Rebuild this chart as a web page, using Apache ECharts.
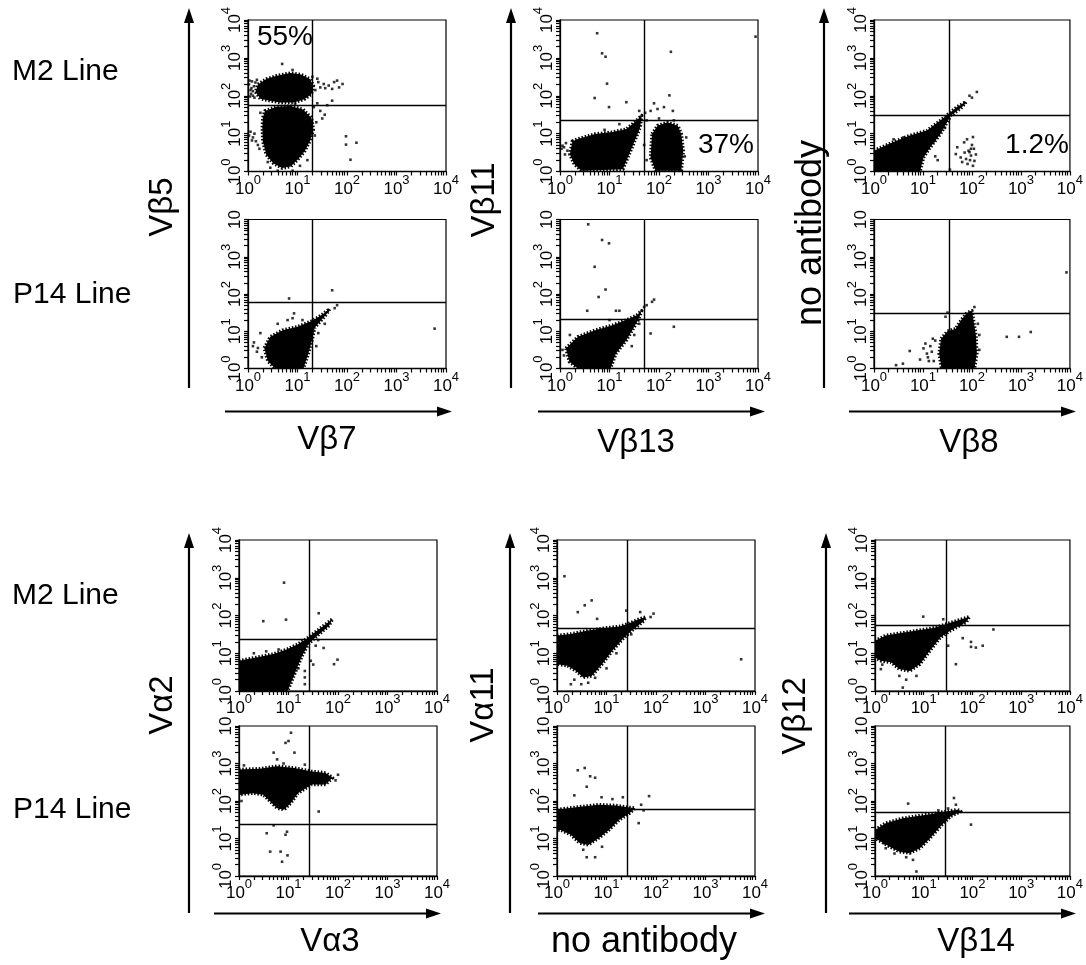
<!DOCTYPE html>
<html><head><meta charset="utf-8">
<script src="https://cdn.jsdelivr.net/npm/echarts@6/dist/echarts.min.js"></script>
<style>html,body{margin:0;padding:0;background:#fff}#c{width:1086px;height:965px}</style>
</head><body><div id="c"></div>
<script>
// ---------- DATA (all intensities in log10 units, axis 10^0 .. 10^4) ----------
const decades = [0, 1, 2, 3, 4];
const tickMultipliers = [1, 2, 3, 4, 5, 6, 7, 8, 9];
const rowLabels = ['M2 Line', 'P14 Line'];
const yTitles = ['Vβ5', 'Vβ11', 'no antibody', 'Vα2', 'Vα11', 'Vβ12'];
const xTitles = ['Vβ7', 'Vβ13', 'Vβ8', 'Vα3', 'no antibody', 'Vβ14'];
const percentTexts = ['55%', '37%', '1.2%'];
// quadrant gates per panel (panel order: top block col1 M2, col1 P14, col2 M2, col2 P14, col3 M2, col3 P14, bottom block same)
const gateX = [1.30, 1.30, 1.71, 1.71, 1.53, 1.53, 1.42, 1.42, 1.42, 1.42, 1.46, 1.44];
const gateY = [1.75, 1.77, 1.34, 1.33, 1.48, 1.49, 1.36, 1.38, 1.66, 1.77, 1.73, 1.71];

// dense populations (outline of the solid dot clouds)
const blobs1 = [
  [[0.2,2.3],[0.37,2.44],[0.58,2.53],[0.86,2.60],[1.07,2.56],[1.25,2.44],[1.32,2.27],[1.28,2.04],[1.14,1.91],[0.93,1.82],[0.65,1.82],[0.44,1.87],[0.25,1.92],[0.15,2.1]],
  [[0.34,1.60],[0.58,1.71],[0.86,1.73],[1.11,1.64],[1.28,1.42],[1.32,1.11],[1.25,0.80],[1.14,0.53],[1.00,0.31],[0.86,0.13],[0.69,0.09],[0.51,0.22],[0.37,0.44],[0.30,0.80],[0.29,1.16],[0.30,1.42]]
];
const blobs2 = [
  [[0.33,0.55],[0.45,0.85],[0.7,1.03],[1.0,1.12],[1.3,1.28],[1.5,1.45],[1.65,1.6],[1.58,1.45],[1.35,1.1],[1.3,0.8],[1.22,0.4],[1.12,0.0],[0.55,0.0],[0.4,0.2]]
];
const blobs3 = [
  [[0.25,0.8],[0.36,0.86],[0.71,0.99],[1.06,1.04],[1.34,1.12],[1.51,1.30],[1.65,1.48],[1.62,1.17],[1.51,0.81],[1.37,0.37],[1.27,0.06],[0.43,0.02],[0.29,0.19],[0.2,0.45]],
  [[1.86,0.99],[1.97,1.21],[2.17,1.30],[2.38,1.21],[2.45,0.99],[2.49,0.55],[2.45,0.02],[1.93,0.02],[1.83,0.37]]
];
const blobs4 = [
  [[0.12,0.54],[0.36,0.85],[0.71,1.03],[1.06,1.16],[1.34,1.30],[1.55,1.43],[1.65,1.55],[1.58,1.30],[1.34,0.76],[1.13,0.40],[1.02,0.0],[0.36,0.0],[0.19,0.18]]
];
const blobs5 = [
  [[0,0.55],[0.31,0.73],[0.73,0.95],[1.08,1.08],[1.36,1.35],[1.53,1.53],[1.70,1.71],[1.88,1.84],[1.8,1.7],[1.57,1.48],[1.36,1.0],[1.15,0.64],[1.01,0.37],[0.94,0.0],[0,0]]
];
const blobs6 = [
  [[1.37,0.8],[1.50,1.0],[1.67,1.07],[1.78,1.3],[1.9,1.5],[2.0,1.55],[2.03,1.3],[2.08,0.9],[2.1,0.4],[2.05,0.0],[1.38,0.0],[1.33,0.40]]
];
const blobs7 = [
  [[0,0.80],[0.35,0.89],[0.70,0.98],[0.98,1.11],[1.19,1.24],[1.36,1.38],[1.54,1.56],[1.71,1.73],[1.89,1.91],[1.82,1.73],[1.54,1.42],[1.40,1.24],[1.26,0.89],[1.12,0.44],[1.01,0.09],[0.98,0],[0,0]]
];
const blobs8 = [
  [[0,2.84],[0.42,2.86],[0.77,2.93],[1.12,2.88],[1.47,2.79],[1.75,2.75],[1.89,2.62],[1.75,2.44],[1.47,2.44],[1.19,2.21],[1.05,1.95],[0.91,1.77],[0.77,1.81],[0.63,1.99],[0.49,2.17],[0.28,2.21],[0,2.17]]
];
const blobs9 = [
  [[0,1.47],[0.28,1.51],[0.63,1.60],[0.98,1.67],[1.26,1.71],[1.44,1.78],[1.61,1.88],[1.79,1.96],[1.75,1.85],[1.51,1.60],[1.33,1.38],[1.12,1.07],[0.91,0.71],[0.70,0.40],[0.53,0.36],[0.39,0.53],[0.21,0.67],[0,0.71]]
];
const blobs10 = [
  [[0,1.77],[0.42,1.84],[0.84,1.90],[1.19,1.88],[1.40,1.84],[1.58,1.81],[1.47,1.68],[1.26,1.50],[1.05,1.23],[0.84,1.01],[0.63,0.83],[0.46,0.88],[0.28,1.10],[0.07,1.23],[0,1.23]]
];
const blobs11 = [
  [[0,1.33],[0.22,1.47],[0.50,1.53],[0.85,1.60],[1.20,1.67],[1.48,1.78],[1.69,1.87],[1.94,1.97],[1.87,1.82],[1.55,1.60],[1.34,1.42],[1.13,1.07],[0.92,0.71],[0.71,0.53],[0.50,0.58],[0.33,0.76],[0.12,0.80],[0,0.89]]
];
const blobs12 = [
  [[0,1.23],[0.22,1.41],[0.57,1.54],[0.92,1.61],[1.20,1.66],[1.45,1.72],[1.69,1.77],[1.76,1.72],[1.55,1.59],[1.34,1.32],[1.13,1.01],[0.92,0.74],[0.71,0.61],[0.50,0.65],[0.29,0.79],[0.12,0.92],[0,1.01]]
];

// sparse single events
const dots1 = [[0.02,2.3],[0.05,2.15],[0.08,2.38],[0.1,2.0],[0.12,2.25],[0.04,1.98],[0.07,2.2],[0.15,2.35],[0.03,2.4],[0.1,2.12],[0.18,2.42],[0.06,2.05],[0.13,1.95],
  [1.42,2.36],[1.53,2.31],[1.63,2.27],[1.74,2.36],[1.84,2.22],[1.91,2.31],[1.70,2.18],[1.56,2.20],[1.46,2.22],[1.36,2.15],[1.40,2.45],[1.80,2.40],
  [0.02,0.95],[0.05,1.05],[0.1,0.9],[0.16,0.8],[0.13,1.0],[0.2,0.7],[0.23,0.6],[0.08,0.82],
  [1.98,0.93],[1.98,0.71],[2.19,0.76],[2.07,0.31],[1.46,1.6],[1.55,1.5],[1.6,1.75],[1.7,1.87],[1.5,1.4],[1.38,1.3],[0.69,2.84],[1.4,1.8],[0.9,0.02],[0.45,0.1],[1.2,0.3],[1.35,0.95],
  [0.25,1.55],[1.33,1.7],[1.05,0.15],[0.6,0.02],[0.4,0.25],[0.95,1.78],[1.3,2.5],[0.9,2.68]];
const dots2 = [[0.1,0.6],[0.2,0.55],[0.12,0.7],[0.25,0.95],[0.18,0.45],[0.28,0.3],[0.83,1.88],[0.93,1.48],[0.8,1.3],[1.7,2.10],[3.77,1.07],[1.75,1.62],[1.8,1.7],[1.55,1.2],[1.42,0.95],[1.38,0.6],[0.9,1.35],[0.6,1.2],[1.1,1.3]];
const dots3 = [[0.05,0.68],[0.08,0.64],[0.12,0.75],[0.15,0.55],[0.1,0.45],[0.03,0.6],[0.75,3.65],[0.85,3.12],[0.92,3.03],[0.95,2.32],[0.70,1.94],[0.99,1.70],[1.34,1.83],[2.24,3.16],[2.21,2.01],[1.9,1.8],[1.97,1.65],[1.83,1.6],[2.1,1.7],[2.28,1.6],[3.95,3.56],[1.72,1.55],[1.6,1.6],[1.75,1.35],[2.55,0.9],[2.52,0.4],[1.7,0.7],[1.75,0.3],[1.2,1.25],[0.9,1.1],[2.0,1.4],[2.3,1.35]];
const dots4 = [[0.57,3.87],[0.85,3.45],[0.99,3.36],[0.70,2.73],[0.92,2.12],[0.78,1.92],[0.55,1.55],[1.13,1.55],[1.2,1.55],[1.86,1.79],[1.9,1.85],[2.30,1.12],[1.83,0.94],[1.7,1.65],[1.75,1.7],[1.5,0.9],[1.45,0.6],[0.05,0.5],[0.08,0.35],[0.2,0.9],[1.0,1.3],[1.6,1.2]];
const dots5 = [[1.70,0.64],[1.84,0.77],[1.98,0.60],[2.05,0.28],[1.91,0.20],[1.77,0.37],[2.02,0.91],[1.67,0.46],[1.98,0.42],[1.95,0.51],[1.88,0.33],[2.02,0.15],[1.93,0.55],[2.0,0.7],[1.85,0.5],[1.9,0.85],[2.08,0.45],[1.8,0.25],[1.96,0.3],[2.04,0.6],
  [1.25,0.4],[1.3,0.3],[2.0,1.95],[1.95,2.0],[1.45,1.15],[1.22,0.8],[1.55,0.05],[0.6,0.9],[0.4,0.85],[2.1,2.1]];
const dots6 = [[1.01,0.54],[1.08,0.40],[1.15,0.6],[0.94,0.24],[1.22,0.2],[1.05,0.67],[0.73,0.47],[0.59,0.13],[0.45,0.09],[1.25,0.75],[1.18,0.45],[1.12,0.2],[1.46,1.39],[1.50,1.5],[2.71,0.85],[2.96,0.85],[3.20,0.98],[3.93,2.58],[1.2,0.8],[1.1,0.3],[2.15,0.5],[2.15,0.9],[2.05,1.65],[2.12,1.2]];
const dots7 = [[0.91,2.87],[0.49,1.85],[0.95,1.89],[1.61,2.06],[1.99,0.83],[1.92,0.71],[1.71,1.14],[1.33,0.53],[1.33,0.36],[1.33,0.18],[1.45,0.8],[1.5,0.7],[1.55,1.2],[0.3,1.0],[0.55,1.05],[0.8,1.1],[1.2,0.6],[1.6,1.35]];
const dots8 = [[1.05,3.82],[0.94,3.55],[0.77,3.11],[0.70,3.29],[1.12,3.29],[1.33,2.97],[0.56,1.14],[0.94,1.10],[0.63,0.65],[0.84,0.65],[0.87,0.38],[0.98,0.55],[1.61,1.72],[0.70,1.35],[0.97,1.18],[1.0,3.6],[0.9,3.0],[2.0,2.7],[1.95,2.55],[0.05,2.0],[0.1,2.95]];
const dots9 = [[0.15,3.04],[0.56,2.27],[0.42,2.09],[0.70,2.4],[0.81,1.91],[1.40,2.13],[1.68,2.09],[1.89,1.96],[1.95,2.05],[1.5,1.5],[0.28,0.18],[0.49,0.18],[0.63,0.22],[0.77,0.35],[0.35,0.3],[3.72,0.84],[1.0,0.6],[1.2,1.0]];
const dots10 = [[0.42,2.82],[0.56,2.88],[0.67,2.66],[0.77,2.62],[0.60,2.38],[0.35,2.15],[0.9,2.1],[1.12,2.05],[1.33,2.1],[1.86,2.13],[1.65,1.41],[0.53,0.7],[0.60,0.5],[0.77,0.5],[0.91,0.78],[1.7,1.9],[1.75,1.75]];
const dots11 = [[0.99,1.97],[1.8,1.4],[1.97,1.3],[2.07,1.15],[2.21,1.2],[1.97,1.17],[2.43,1.63],[1.66,0.71],[0.50,0.4],[0.64,0.3],[0.85,0.4],[0.57,0.09],[0.15,0.7],[0.12,0.58],[1.5,1.2],[1.4,1.9]];
const dots12 = [[0.68,1.93],[1.62,2.08],[1.66,1.9],[1.97,1.37],[0.85,0.12],[0.64,0.5],[0.78,0.43],[0.19,0.87],[0.22,0.74],[1.3,1.75],[1.5,1.8],[0.4,0.6]];

// ---------- LAYOUT ----------
const panelBlobs = [blobs1, blobs2, blobs3, blobs4, blobs5, blobs6, blobs7, blobs8, blobs9, blobs10, blobs11, blobs12];
const panelDots = [dots1, dots2, dots3, dots4, dots5, dots6, dots7, dots8, dots9, dots10, dots11, dots12];
const blockCols = [[248, 560, 874], [239, 557, 875]];
const blockRows = [[[20, 151.5], [219.5, 149]], [[540, 151], [726, 150]]];
const PW = 198;
const FONT = '"Liberation Sans", Arial, sans-serif';

const gridRects = [];
for (let b = 0; b < 2; b++) for (let c = 0; c < 3; c++) for (let r = 0; r < 2; r++) {
  gridRects.push({ left: blockCols[b][c], top: blockRows[b][r][0], width: PW, height: blockRows[b][r][1], row: r });
}

const minorTickValues = [];
decades.slice(0, 4).forEach(d => tickMultipliers.forEach(m => minorTickValues.push(m * Math.pow(10, d))));
minorTickValues.push(Math.pow(10, decades[4]));

const richLbl = {
  b: { fontSize: 17, lineHeight: 24, fontFamily: FONT, color: '#000', verticalAlign: 'bottom' },
  s: { fontSize: 13, lineHeight: 13, fontFamily: FONT, color: '#000', verticalAlign: 'top' }
};
function lblFmt(noTopExp) {
  return function (v) {
    const e = Math.round(Math.log10(v));
    if (noTopExp && e === decades[decades.length - 1]) return '{b|10}';
    return '{b|10}{s|' + e + '}';
  };
}

const grids = [], xAxes = [], yAxes = [], series = [];
gridRects.forEach((g, i) => {
  grids.push({ left: g.left, top: g.top, width: g.width, height: g.height, show: true, borderColor: '#000', borderWidth: 1.2 });
  const common = {
    gridIndex: i, type: 'log', logBase: 10, min: 1, max: 10000,
    axisLine: { show: true, lineStyle: { color: '#000', width: 1.3 } },
    axisTick: { show: true, inside: false, length: 4, customValues: minorTickValues, lineStyle: { color: '#000', width: 1.2 } },
    splitLine: { show: false }, minorSplitLine: { show: false }
  };
  xAxes.push(Object.assign({}, common, {
    axisLabel: { formatter: lblFmt(false), rich: richLbl, fontSize: 17, fontFamily: FONT, color: '#000', margin: 2, showMinLabel: true, showMaxLabel: true }
  }));
  yAxes.push(Object.assign({}, common, {
    axisLabel: { formatter: lblFmt(g.row === 1), rich: richLbl, fontSize: 17, fontFamily: FONT, color: '#000', margin: 4, rotate: 90, showMinLabel: true, showMaxLabel: true }
  }));
  const blobs = panelBlobs[i];
  series.push({
    type: 'custom', xAxisIndex: i, yAxisIndex: i, silent: true, clip: true,
    data: blobs.map(p => [Math.pow(10, p[0][0]), Math.pow(10, p[0][1])]),
    renderItem: function (params, api) {
      const pts = blobs[params.dataIndex].map(p => api.coord([Math.pow(10, p[0]), Math.pow(10, p[1])]));
      return { type: 'polygon', shape: { points: pts }, style: { fill: '#000', stroke: '#000', lineWidth: 3.5, lineDash: [1.5, 1.8], lineJoin: 'round' } };
    }
  });
  series.push({
    type: 'scatter', xAxisIndex: i, yAxisIndex: i, silent: true,
    symbol: 'rect', symbolSize: 2.6, itemStyle: { color: '#000' },
    data: panelDots[i].map(p => [Math.pow(10, p[0]), Math.pow(10, p[1])]),
    markLine: {
      silent: true, symbol: ['none', 'none'], label: { show: false },
      lineStyle: { color: '#000', width: 1.4, type: 'solid' },
      emphasis: { disabled: true },
      data: [{ xAxis: Math.pow(10, gateX[i]) }, { yAxis: Math.pow(10, gateY[i]) }]
    }
  });
});

// ---------- annotations ----------
const graphic = [];
function txt(s, x, y, size, rot, align) {
  graphic.push({ type: 'text', x: x, y: y, rotation: rot || 0, silent: true,
    style: { text: s, font: size + 'px ' + FONT, fill: '#000', align: align || 'center', verticalAlign: 'middle', textAlign: align || 'center', textVerticalAlign: 'middle' } });
}
function vArrow(x, yBottom, yTip) {
  graphic.push({ type: 'line', silent: true, shape: { x1: x, y1: yBottom, x2: x, y2: yTip + 12 }, style: { stroke: '#000', lineWidth: 2.2 } });
  graphic.push({ type: 'polygon', silent: true, shape: { points: [[x, yTip], [x - 5, yTip + 15], [x + 5, yTip + 15]] }, style: { fill: '#000' } });
}
function hArrow(y, xStart, xTip) {
  graphic.push({ type: 'line', silent: true, shape: { x1: xStart, y1: y, x2: xTip - 12, y2: y }, style: { stroke: '#000', lineWidth: 2.2 } });
  graphic.push({ type: 'polygon', silent: true, shape: { points: [[xTip, y], [xTip - 15, y - 5], [xTip - 15, y + 5]] }, style: { fill: '#000' } });
}
// row labels
[[72, 295], [596, 810]].forEach(ys => { txt(rowLabels[0], 12, ys[0], 30, 0, 'left'); txt(rowLabels[1], 13, ys[1], 30, 0, 'left'); });
// y titles (rotated)
const yTitlePos = [[163, 207], [485, 200], [811, 233], [163, 705], [484, 705], [796, 716]];
yTitles.forEach((t, k) => txt(t, yTitlePos[k][0], yTitlePos[k][1], t === 'no antibody' ? 36 : 33, Math.PI / 2));
// x titles
const xTitlePos = [[327, 440], [636, 443], [969, 443], [330, 942], [644, 942], [976, 942]];
xTitles.forEach((t, k) => txt(t, xTitlePos[k][0], xTitlePos[k][1], t === 'no antibody' ? 36 : 33, 0));
// arrows
[189, 511, 824].forEach(x => vArrow(x, 388, 8));
[189, 510, 826].forEach(x => vArrow(x, 913, 533));
[[225, 452], [538, 765], [849, 1076]].forEach(a => hArrow(411.5, a[0], a[1]));
[[214, 441], [538, 765], [849, 1076]].forEach(a => hArrow(913.5, a[0], a[1]));
// quadrant percentages
const pctPos = [[285, 37], [726, 145], [1037, 145]];
percentTexts.forEach((t, k) => txt(t, pctPos[k][0], pctPos[k][1], 28, 0));

const chart = echarts.init(document.getElementById('c'), null, { renderer: 'canvas' });
chart.setOption({
  animation: false,
  backgroundColor: '#fff',
  textStyle: { fontFamily: FONT },
  grid: grids, xAxis: xAxes, yAxis: yAxes, series: series, graphic: graphic
});
</script></body></html>
